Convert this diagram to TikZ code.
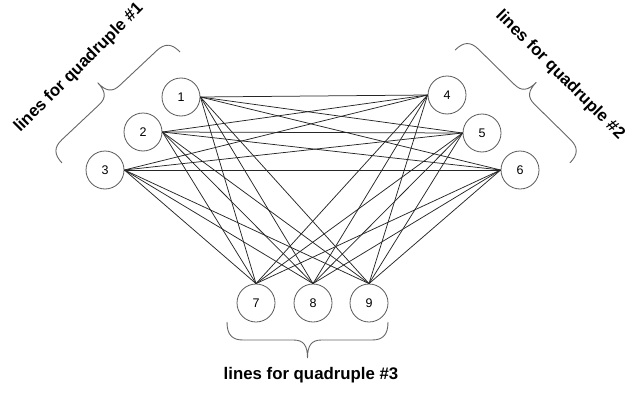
\documentclass[tikz,border=0pt]{standalone}
\usepackage{fontspec}
\setmainfont{Liberation Sans}
\begin{document}
\begin{tikzpicture}[x=1pt,y=1pt,
  vtx/.style={circle,draw=black!65,line width=0.8pt,minimum size=38pt,inner sep=0pt,font=\fontsize{12.5}{12.5}\selectfont},
  edge/.style={black!85,line width=0.75pt},
  brc/.style={draw=black!60,line width=0.9pt},
  lbl/.style={font=\bfseries\fontsize{16.8}{17}\selectfont}]
\useasboundingbox (0,0) rectangle (634,392);
\node[vtx] (n1) at (181,295) {1};
\node[vtx] (n2) at (143,260) {2};
\node[vtx] (n3) at (105,222) {3};
\node[vtx] (n4) at (447,297) {4};
\node[vtx] (n5) at (482,259) {5};
\node[vtx] (n6) at (520,222) {6};
\node[vtx] (n7) at (256,89) {7};
\node[vtx] (n8) at (313,89) {8};
\node[vtx] (n9) at (369,89) {9};
\foreach \a in {1,2,3}{
  \foreach \b in {4,5,6}{\draw[edge] (n\a.east) -- (n\b.west);}
  \foreach \b in {7,8,9}{\draw[edge] (n\a.east) -- (n\b.north);}
}
\foreach \a in {4,5,6}{
  \foreach \b in {7,8,9}{\draw[edge] (n\a.west) -- (n\b.north);}
}
% braces: local frame, ends at (+-L/2,0), tip at (0,-h)
\def\bracepath#1#2{%
  \draw[brc] (-#1/2,0) .. controls (-#1/2,-#2*0.35) and (-#1/2+5,-#2/2) .. (-#1/2+16,-#2/2)
    -- (-14,-#2/2) .. controls (-4,-#2/2) and (0,-#2*0.65) .. (0,-#2)
    .. controls (0,-#2*0.65) and (4,-#2/2) .. (14,-#2/2)
    -- (#1/2-16,-#2/2) .. controls (#1/2-5,-#2/2) and (#1/2,-#2*0.35) .. (#1/2,0);}
\begin{scope}[shift={(121,284.5)},rotate=223.2]
  \bracepath{162}{34}
\end{scope}
\begin{scope}[shift={(512.5,285.5)},rotate=135.5]
  \bracepath{161}{34}
\end{scope}
\begin{scope}[shift={(307.5,70)}]
  \bracepath{161}{36}
\end{scope}
\node[lbl,rotate=45] (t1) at (79,324) {lines for quadruple \#1};
\node[lbl,rotate=-45] (t2) at (560,317) {lines for quadruple \#2};
\node[lbl] (t3) at (311,17) {lines for quadruple \#3};
\end{tikzpicture}
\end{document}
